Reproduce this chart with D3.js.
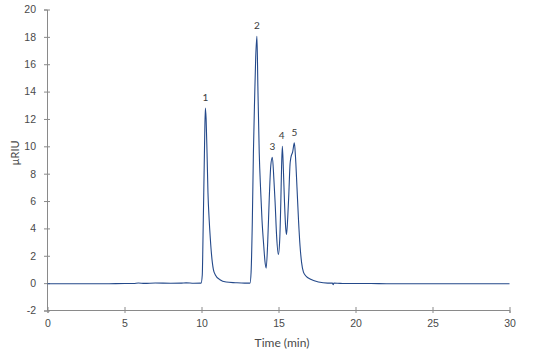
<!DOCTYPE html>
<html lang="en">
<head>
<meta charset="UTF-8">
<title>Chromatogram</title>
<script src="https://cdn.jsdelivr.net/npm/d3@7/dist/d3.min.js"></script>
<style>
    body { margin: 0; background: #fff; }
    svg { display: block; font-family: Lato, "Open Sans", sans-serif; }
    .axis path, .axis line { stroke: #8a8a8a; }
    .axis text { fill: #4a4a4a; font-size: 10.5px; }
    .trace { fill: none; stroke: #24498a; stroke-width: 1.1; stroke-linejoin: round; }
    .peak { fill: #3a3a3a; font-size: 10px; text-anchor: middle; }
    .title { fill: #4a4a4a; font-size: 12px; text-anchor: middle; }
</style>
</head>
<body>
<svg width="554" height="357"></svg>
<script>
    // retention time (min) and detector signal (µRIU)
    var times = [0, 1, 2, 3, 4, 5, 5.6, 5.9, 6.3, 7, 8, 8.7, 9, 9.5,
        9.97, 10.05, 10.1, 10.15, 10.2, 10.25, 10.3, 10.36, 10.42, 10.5, 10.57, 10.65, 10.77, 10.9, 11.2, 11.6,
        12.2, 12.8, 13.15, 13.22, 13.3, 13.37, 13.45, 13.52, 13.6, 13.66, 13.75, 13.84, 13.93, 14.05, 14.12,
        14.2, 14.3, 14.4, 14.5, 14.6, 14.7, 14.78, 14.88, 14.99,
        15.08, 15.15, 15.2, 15.25, 15.32, 15.39, 15.47, 15.52,
        15.6, 15.67, 15.75, 15.8, 15.92, 16.03, 16.1, 16.2, 16.3, 16.4, 16.5, 16.62, 16.8, 17.05, 17.6,
        18.2, 18.5, 18.55, 18.6, 19, 20, 21, 22, 23, 24, 25, 26, 27, 28, 29, 30];
    var signal = [-0.04, -0.04, -0.05, -0.05, -0.04, -0.03, -0.03, 0.01, -0.02, 0.01, -0.01, 0.0, 0.02, -0.01,
        0.0, 0.6, 3.5, 6.8, 10.2, 12.8, 12.0, 9.5, 6.6, 4.6, 3.3, 2.1, 1.0, 0.6, 0.25, 0.08,
        0.03, 0.0, 0.0, 0.8, 4.5, 9.5, 13.5, 16.5, 18.05, 14.4, 9.5, 6.8, 4.6, 2.6, 1.6,
        1.1, 3.0, 6.2, 8.6, 9.2, 7.6, 5.9, 3.4, 2.1,
        3.2, 5.9, 8.5, 10.0, 8.2, 5.9, 4.0, 3.55,
        4.8, 6.5, 8.7, 9.15, 9.6, 10.25, 9.3, 7.0, 4.6, 2.7, 1.5, 0.8, 0.5, 0.3, 0.08,
        0.0, 0.0, -0.12, 0.0, -0.02, -0.03, -0.03, -0.04, -0.04, -0.05, -0.05, -0.05, -0.05, -0.05, -0.05, -0.05];

    var peakNames = ["1", "2", "3", "4", "5"];
    var peakTimes = [10.25, 13.6, 14.6, 15.2, 16.03];
    var peakHeights = [12.8, 18.05, 9.2, 10.0, 10.25];

    var xTicks = [0, 5, 10, 15, 20, 25, 30];
    var yTicks = [-2, 0, 2, 4, 6, 8, 10, 12, 14, 16, 18, 20];

    var svg = d3.select("svg");

    var x = d3.scaleLinear().domain([0, 30]).range([47.5, 509.5]);
    var y = d3.scaleLinear().domain([-2, 20]).range([310.5, 9.5]);

    // plain hyphen for negatives, like the original
    var plain = function(d) { return String(d); };

    var xAxis = svg.append("g")
            .attr("class", "axis")
            .attr("transform", "translate(0,310)")
            .call(d3.axisBottom(x).tickValues(xTicks).tickFormat(plain)
                    .tickSizeOuter(0).tickSize(3).tickPadding(7));
    xAxis.selectAll(".tick line").attr("y1", -3).attr("y2", 3);

    var yAxis = svg.append("g")
            .attr("class", "axis")
            .attr("transform", "translate(47,0)")
            .call(d3.axisLeft(y).tickValues(yTicks).tickFormat(plain)
                    .tickSizeOuter(0).tickSize(3).tickPadding(8));
    yAxis.selectAll(".tick line").attr("x1", -3).attr("x2", 3);

    var points = times.map(function(t, i) {
        return [t, signal[i]];
    });

    var line = d3.line()
            .x(function(d) { return x(d[0]); })
            .y(function(d) { return y(d[1]); })
            .curve(d3.curveMonotoneX);

    svg.append("path")
            .attr("class", "trace")
            .attr("d", line(points));

    svg.selectAll("text.peak")
            .data(peakNames)
            .enter()
            .append("text")
            .attr("class", "peak")
            .attr("x", function(d, i) { return x(peakTimes[i]); })
            .attr("y", function(d, i) { return y(peakHeights[i]) - 7; })
            .text(function(d) { return d; });

    svg.append("text")
            .attr("class", "title")
            .attr("x", 282)
            .attr("y", 347)
            .text("Time (min)");

    svg.append("text")
            .attr("class", "title")
            .style("font-size", "11px")
            .attr("transform", "translate(19,153) rotate(-90)")
            .text("µRIU");
</script>
</body>
</html>
